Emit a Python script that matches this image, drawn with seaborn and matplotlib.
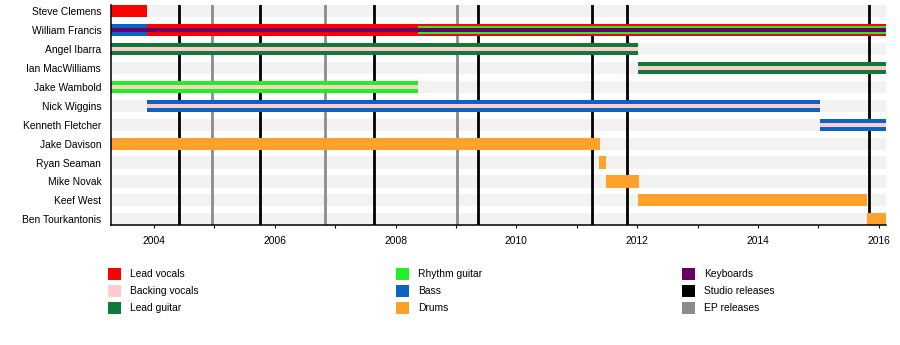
import matplotlib
matplotlib.use("Agg")
import matplotlib.pyplot as plt
import seaborn as sns
import pandas as pd
from matplotlib.patches import Rectangle
from matplotlib.ticker import MultipleLocator

# ---- band members (top to bottom) ----
members = [
    "Steve Clemens", "William Francis", "Angel Ibarra", "Ian MacWilliams",
    "Jake Wambold", "Nick Wiggins", "Kenneth Fletcher", "Jake Davison",
    "Ryan Seaman", "Mike Novak", "Keef West", "Ben Tourkantonis",
]

timeline_start = 2003.29
timeline_end = 2016.12

# ---- membership periods ----
seg_member = [
    "Steve Clemens",
    "William Francis", "William Francis", "William Francis", "William Francis",
    "Angel Ibarra", "Angel Ibarra",
    "Ian MacWilliams", "Ian MacWilliams",
    "Jake Wambold", "Jake Wambold",
    "Nick Wiggins", "Nick Wiggins",
    "Kenneth Fletcher", "Kenneth Fletcher",
    "Jake Davison", "Ryan Seaman", "Mike Novak", "Keef West", "Ben Tourkantonis",
]
seg_role = [
    "Lead vocals",
    "Bass", "Lead vocals", "Rhythm guitar", "Keyboards",
    "Lead guitar", "Backing vocals",
    "Lead guitar", "Backing vocals",
    "Rhythm guitar", "Backing vocals",
    "Bass", "Backing vocals",
    "Bass", "Backing vocals",
    "Drums", "Drums", "Drums", "Drums", "Drums",
]
seg_start = [
    2003.29,
    2003.29, 2003.89, 2008.38, 2003.29,
    2003.29, 2003.29,
    2012.02, 2012.02,
    2003.29, 2003.29,
    2003.88, 2003.88,
    2015.03, 2015.03,
    2003.29, 2011.37, 2011.49, 2012.02, 2015.80,
]
seg_end = [
    2003.89,
    2003.89, 2016.12, 2016.12, 2016.12,
    2012.02, 2012.02,
    2016.12, 2016.12,
    2008.38, 2008.38,
    2015.03, 2015.03,
    2016.12, 2016.12,
    2011.38, 2011.49, 2012.03, 2015.80, 2016.12,
]
# stacking layer of each period inside its row: 0 full, 1 medium, 2 thin
seg_layer = [
    0,
    0, 0, 1, 2,
    0, 2,
    0, 2,
    0, 2,
    0, 2,
    0, 2,
    0, 0, 0, 0, 0,
]

# ---- releases ----
studio_releases = [2004.41, 2005.76, 2007.64, 2009.36, 2011.25, 2011.84, 2015.84]
ep_releases = [2004.97, 2006.84, 2009.02]

# ---- colours ----
roles = ["Lead vocals", "Backing vocals", "Lead guitar", "Rhythm guitar",
         "Bass", "Drums", "Keyboards"]
role_colors = ["#ff0000", "#ffcccc", "#0f7a3a", "#22f022",
               "#0b64c4", "#ffa22c", "#660066"]
studio_color = "#000000"
ep_color = "#8c8c8c"
band_color = "#f2f2f2"

color_of = dict(zip(roles, role_colors))
layer_height = [0.64, 0.42, 0.22]

sns.set_theme(style="white")
plt.rcParams["font.family"] = ["Liberation Sans", "DejaVu Sans"]

fig = plt.figure(figsize=(9, 3.45), dpi=100)
W, H = 900, 345
ax = fig.add_axes([111 / W, 1 - 225 / H, (886 - 111) / W, (225 - 5) / H])

# light row bands
bands = pd.DataFrame({"member": members, "end": [timeline_end] * len(members)})
sns.barplot(data=bands, x="end", y="member", orient="h", color=band_color,
            saturation=1, width=0.64, linewidth=0, ax=ax, zorder=1)

# release lines
for x in studio_releases:
    ax.axvline(x, color=studio_color, lw=2.0, zorder=2)
for x in ep_releases:
    ax.axvline(x, color=ep_color, lw=2.0, zorder=2)

# membership bars
segs = pd.DataFrame({"member": seg_member, "role": seg_role, "start": seg_start,
                     "end": seg_end, "layer": seg_layer})
row_of = {m: i for i, m in enumerate(members)}
for _, s in segs.sort_values("layer").iterrows():
    ax.barh(row_of[s["member"]], s["end"] - s["start"], left=s["start"],
            height=layer_height[s["layer"]], color=color_of[s["role"]],
            linewidth=0, zorder=3 + s["layer"])

ax.set_xlim(timeline_start, timeline_end)
ax.set_ylim(11.3, -0.32)
ax.set_xlabel("")
ax.set_ylabel("")

ax.xaxis.set_major_locator(MultipleLocator(2))
ax.xaxis.set_minor_locator(MultipleLocator(1))
ax.xaxis.set_major_formatter(matplotlib.ticker.FormatStrFormatter("%d"))
ax.tick_params(axis="x", which="both", bottom=True, direction="out",
               length=2.4, width=0.8, color="black", labelsize=7.4, pad=5.5)
ax.set_yticks(range(len(members)))
ax.set_yticklabels(members)
ax.tick_params(axis="y", left=False, length=0, labelsize=7.4, pad=7)
for lab in ax.get_yticklabels() + ax.get_xticklabels():
    lab.set_color("black")

for side in ["top", "right"]:
    ax.spines[side].set_visible(False)
for side in ["left", "bottom"]:
    ax.spines[side].set_color("black")
    ax.spines[side].set_linewidth(1.1)
    ax.spines[side].set_zorder(6)

# legend laid out in three columns
legend_labels = roles + ["Studio releases", "EP releases"]
legend_colors = role_colors + [studio_color, ep_color]
col_x = [108, 396, 682]
row_y = [274, 291, 308]
for i, (lab, col) in enumerate(zip(legend_labels, legend_colors)):
    cx = col_x[i // 3]
    cy = row_y[i % 3]
    fig.add_artist(Rectangle((cx / W, 1 - (cy + 6) / H), 13 / W, 12 / H,
                             transform=fig.transFigure, facecolor=col,
                             edgecolor="none"))
    fig.text((cx + 22) / W, 1 - cy / H, lab, fontsize=7.4, va="center",
             ha="left", color="black")

fig.savefig("out.png", dpi=100, facecolor="white")
